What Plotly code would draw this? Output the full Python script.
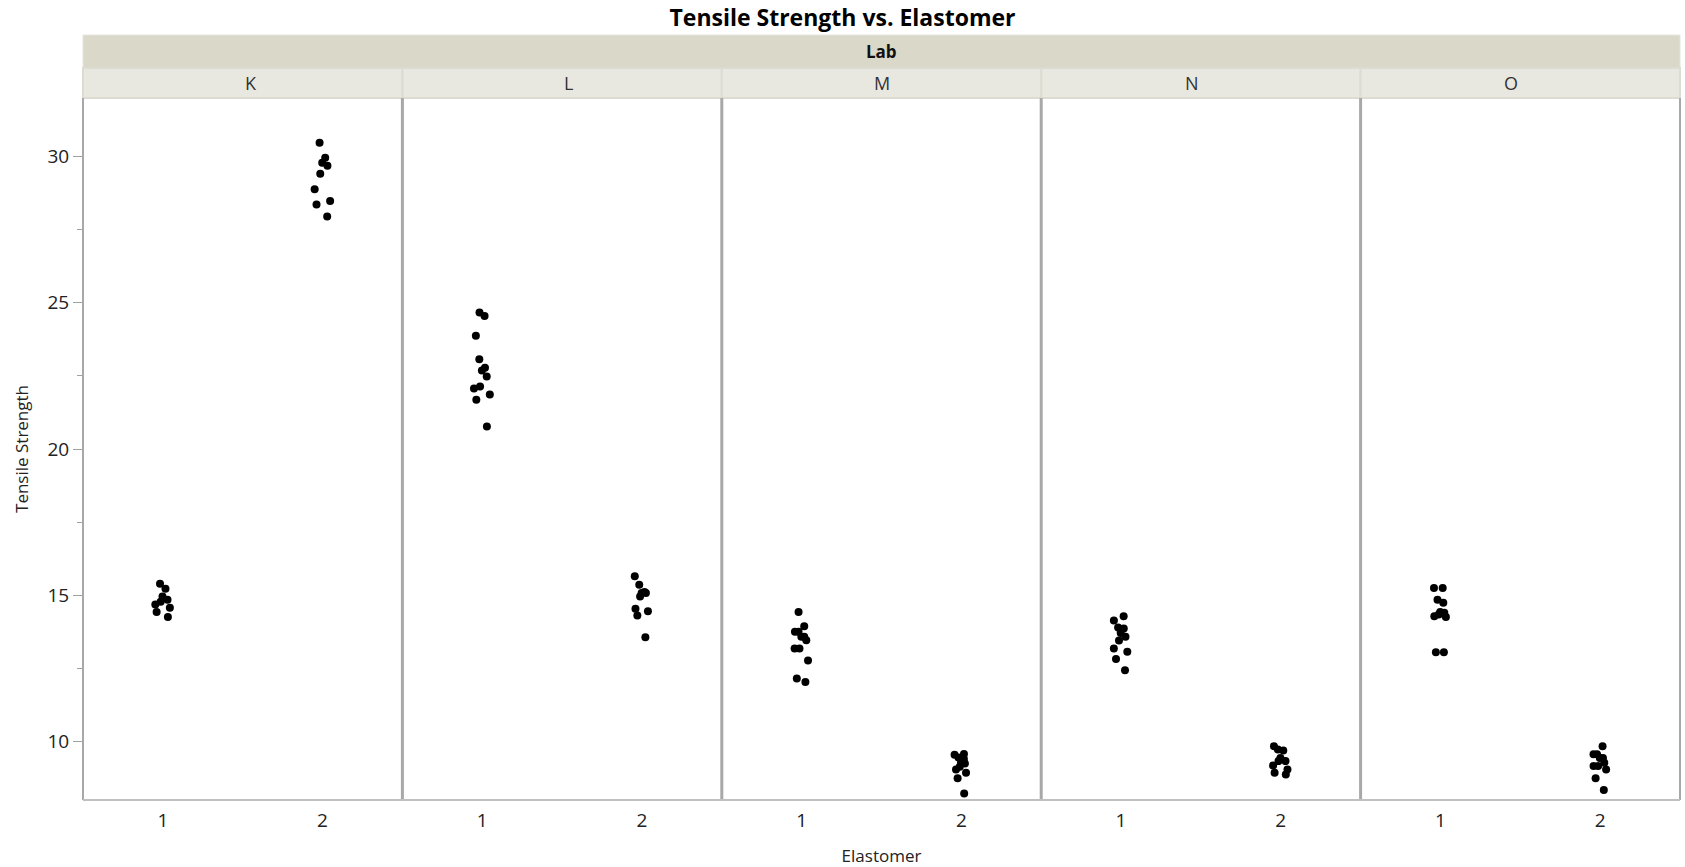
import plotly.graph_objects as go
from plotly.subplots import make_subplots

labs = ["K", "L", "M", "N", "O"]
elastomers = ["1", "2"]
y_ticks = [10, 15, 20, 25, 30]

K_1 = [15.39, 15.22, 14.96, 14.85, 14.78, 14.68, 14.57, 14.43, 14.26]
K_2 = [30.47, 29.96, 29.79, 29.68, 29.41, 28.88, 28.48, 28.36, 27.95]
L_1 = [24.67, 24.55, 23.87, 23.07, 22.78, 22.68, 22.48, 22.14, 22.07, 21.86, 21.68, 20.77]
L_2 = [15.65, 15.36, 15.11, 15.08, 15.08, 14.96, 14.54, 14.45, 14.31, 13.56]
M_1 = [14.43, 13.94, 13.75, 13.75, 13.58, 13.58, 13.46, 13.18, 13.18, 12.77, 12.15, 12.03]
M_2 = [9.57, 9.55, 9.45, 9.40, 9.29, 9.25, 9.14, 9.04, 8.93, 8.74, 8.22]
N_1 = [14.28, 14.14, 13.90, 13.86, 13.71, 13.58, 13.45, 13.18, 13.07, 12.82, 12.44]
N_2 = [9.84, 9.73, 9.69, 9.44, 9.33, 9.33, 9.18, 9.04, 8.93, 8.87]
O_1 = [15.25, 15.25, 14.85, 14.74, 14.43, 14.40, 14.34, 14.28, 14.26, 13.05, 13.05]
O_2 = [9.84, 9.56, 9.56, 9.44, 9.44, 9.27, 9.16, 9.16, 9.04, 8.74, 8.34]

data = {
    ("K", "1"): K_1, ("K", "2"): K_2,
    ("L", "1"): L_1, ("L", "2"): L_2,
    ("M", "1"): M_1, ("M", "2"): M_2,
    ("N", "1"): N_1, ("N", "2"): N_2,
    ("O", "1"): O_1, ("O", "2"): O_2,
}

FONT = "Open Sans"
TXT = "#222222"
W, H = 1685, 867
ML, MR, MT, MB = 83, 5, 98, 67
plot_h = H - MT - MB

fig = make_subplots(rows=1, cols=5, shared_yaxes=True, horizontal_spacing=0)

for c, lab in enumerate(labs, start=1):
    for e in elastomers:
        vals = data[(lab, e)]
        fig.add_trace(go.Box(
            x=[e] * len(vals), y=vals,
            boxpoints="all", jitter=0.25, pointpos=0,
            fillcolor="rgba(0,0,0,0)", line=dict(width=0, color="rgba(0,0,0,0)"),
            marker=dict(color="black", size=8),
            showlegend=False, hoveron="points",
        ), row=1, col=c)
    fig.update_xaxes(type="category", categoryorder="array", categoryarray=elastomers,
                     range=[-0.5, 1.5], showgrid=False, zeroline=False,
                     ticks="outside", ticklen=3, tickcolor="rgba(0,0,0,0)",
                     tickfont=dict(family=FONT, size=19, color=TXT),
                     showline=False, automargin=False, row=1, col=c)

fig.update_yaxes(range=[8, 32], tickvals=y_ticks, showgrid=False, zeroline=False,
                 showline=False, automargin=False)
fig.update_yaxes(ticks="outside", ticklen=9, tickcolor="#A0A0A0", tickwidth=1,
                 tickfont=dict(family=FONT, size=19, color=TXT),
                 minor=dict(ticks="outside", ticklen=5, tickcolor="#A0A0A0", dtick=2.5, tick0=0),
                 title=dict(text="Tensile Strength", font=dict(family=FONT, size=17, color=TXT), standoff=14),
                 row=1, col=1)
fig.update_xaxes(title=dict(text="Elastomer", font=dict(family=FONT, size=17, color=TXT), standoff=20),
                 row=1, col=3)

shapes = []
s1 = 1 + 30 / plot_h
s2 = s1 + 33 / plot_h
shapes.append(dict(type="rect", xref="paper", yref="paper", x0=0, x1=1, y0=s1, y1=s2,
                   fillcolor="#DAD8C9", line=dict(width=1, color="#E6E5DC"), layer="below"))
for i in range(5):
    shapes.append(dict(type="rect", xref="paper", yref="paper", x0=i / 5, x1=(i + 1) / 5,
                       y0=1, y1=s1, fillcolor="#E8E8E0", line=dict(width=2, color="#DCDCD2"),
                       layer="below"))
for i in range(6):
    shapes.append(dict(type="line", xref="paper", yref="paper", x0=i / 5, x1=i / 5, y0=0, y1=1,
                       line=dict(width=3 if 0 < i < 5 else 2, color="#A8A8A8")))
shapes.append(dict(type="line", xref="paper", yref="paper", x0=0, x1=1, y0=0, y1=0,
                   line=dict(width=2, color="#C0C0C0")))

annotations = [
    dict(text="<b>Lab</b>", x=0.5, y=(s1 + s2) / 2, xref="paper", yref="paper", showarrow=False,
         font=dict(family=FONT, size=17, color="#111"), yanchor="middle"),
]
for i, lab in enumerate(labs):
    annotations.append(dict(text=lab, x=(i + 0.5) / 5, y=(1 + s1) / 2, xref="paper", yref="paper",
                            showarrow=False, yanchor="middle",
                            font=dict(family=FONT, size=18, color="#333")))

fig.update_layout(
    width=W, height=H,
    title=dict(text="<b>Tensile Strength vs. Elastomer</b>", x=0.5, xref="container",
               y=1 - 18 / H, yref="container", xanchor="center", yanchor="middle",
               font=dict(family=FONT, size=23, color="black")),
    margin=dict(l=ML, r=MR, t=MT, b=MB, autoexpand=False),
    plot_bgcolor="white", paper_bgcolor="white",
    shapes=shapes, annotations=annotations,
    boxmode="overlay",
)

fig.write_html(
    "out.html",
    config={"displayModeBar": False},
    post_script="document.body.style.margin='0';document.documentElement.style.overflow='hidden';document.body.style.overflow='hidden';",
)
